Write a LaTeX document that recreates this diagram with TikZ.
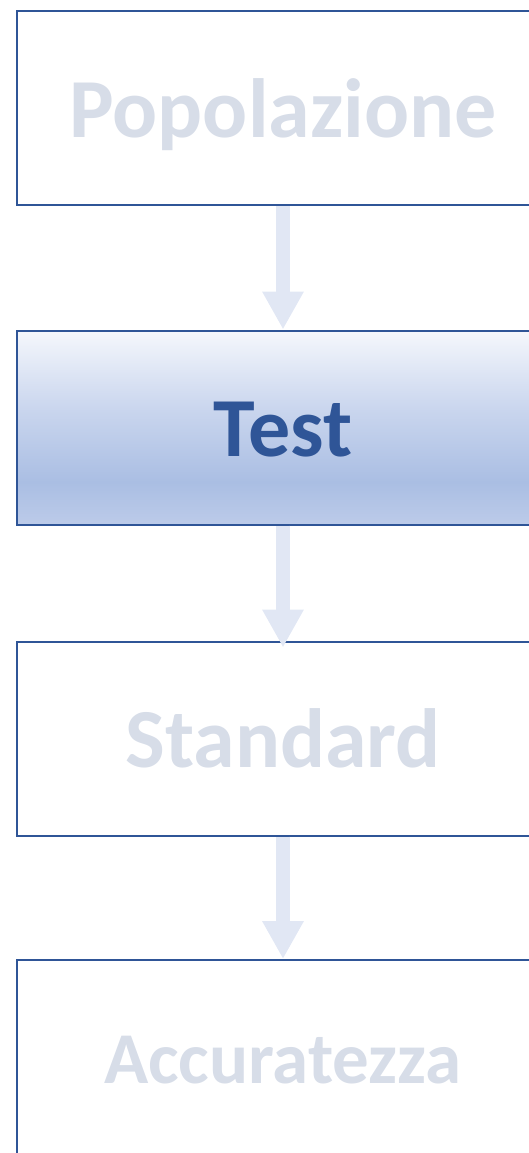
\documentclass[tikz,border=0pt]{standalone}
\usepackage{fontspec}
\setmainfont{Carlito}
\usetikzlibrary{arrows.meta}
\definecolor{boxline}{HTML}{2F5597}
\definecolor{fadetext}{HTML}{D7DDE8}
\definecolor{arrowc}{HTML}{E1E7F4}
\definecolor{testtext}{HTML}{2F5597}
\definecolor{gA}{HTML}{BCCBE9}
\definecolor{gB}{HTML}{AABEE3}
\definecolor{gC}{HTML}{CAD6EE}
\definecolor{gD}{HTML}{F5F7FC}
\pgfdeclareverticalshading{testshade}{100bp}{color(0bp)=(gA); color(25bp)=(gA); color(36bp)=(gB); color(55bp)=(gC); color(75bp)=(gD); color(100bp)=(gD)}
\tikzset{
  stepbox/.style={draw=boxline, line width=2pt, rectangle, minimum width=532pt, minimum height=194pt, inner sep=0pt, font=\bfseries\fontsize{84}{84}\selectfont, text=fadetext, text height=58pt, text depth=0pt},
  smallbox/.style={stepbox, font=\bfseries\fontsize{73}{73}\selectfont, text height=52pt},
  activebox/.style={stepbox, shading=testshade, text=testtext},
  flow/.style={line width=14pt, color=arrowc, -{Triangle[width=39pt,length=38pt]}}
}
\begin{document}
\begin{tikzpicture}[x=1pt,y=-1pt]
\useasboundingbox (0,0) rectangle (528,1153);
\node[stepbox] (b1) at (283,108) {Popolazione};
\node[activebox] (b2) at (283,427.5) {Test};
\node[stepbox] (b3) at (283,738.5) {Standard};
\node[smallbox] (b4) at (283,1057) {Accuratezza};
\draw[flow] (b1.south) -- (b2.north);
\draw[flow] (b2.south) -- ([yshift=-7pt]b3.north);
\draw[flow] (b3.south) -- (b4.north);
\end{tikzpicture}
\end{document}
